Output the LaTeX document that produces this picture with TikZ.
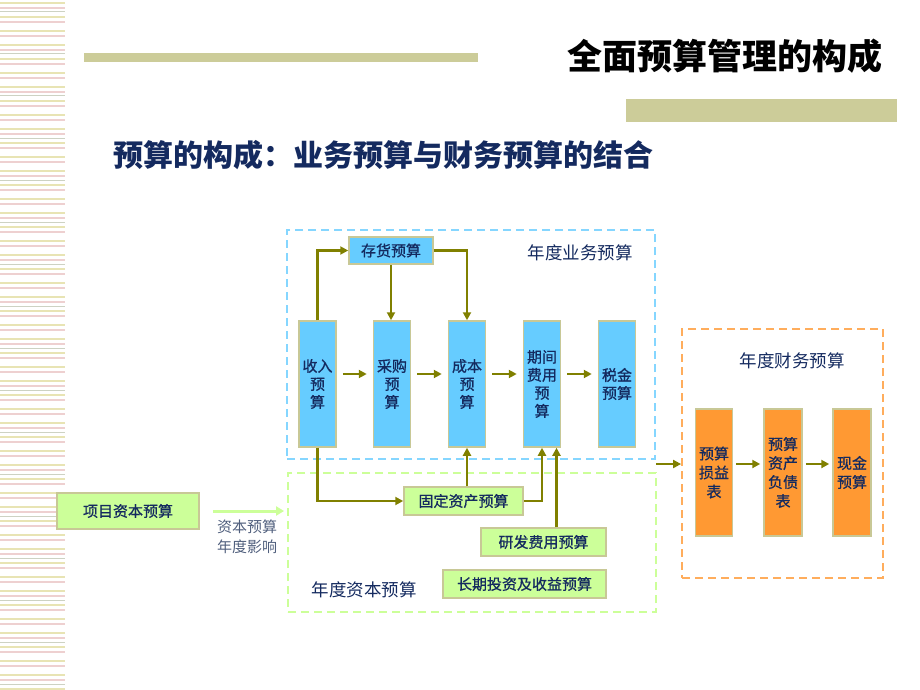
\documentclass[tikz,border=0pt]{standalone}
\usepackage{fontspec}
\setmainfont{Noto Sans CJK SC}
\newfontfamily\boxfont{Noto Sans CJK SC}[FakeBold=0.8]
\usetikzlibrary{arrows.meta}
\definecolor{barolive}{RGB}{204,204,153}
\definecolor{boxline}{RGB}{200,200,150}
\definecolor{navy}{RGB}{20,42,95}
\definecolor{slate}{RGB}{80,95,125}
\definecolor{opblue}{RGB}{102,204,255}
\definecolor{capgreen}{RGB}{204,255,153}
\definecolor{finorange}{RGB}{255,153,51}
\definecolor{arrowolive}{RGB}{128,128,0}
\definecolor{stripeA}{RGB}{232,228,180}
\definecolor{stripeB}{RGB}{238,208,208}
\definecolor{stripeC}{RGB}{205,210,195}
\begin{document}
\begin{tikzpicture}[x=1pt,y=-1pt,
  box/.style={draw=boxline,line width=1.5pt,inner sep=0pt,text=navy,align=center,
    font=\fontsize{15}{18}\boxfont},
  opbox/.style={box,fill=opblue,minimum width=37pt,minimum height=126pt},
  capbox/.style={box,fill=capgreen,minimum height=28pt},
  finbox/.style={box,fill=finorange,minimum width=37pt,minimum height=127pt,
    font=\fontsize{15}{19}\boxfont},
  frame/.style={line width=1.8pt,dash pattern=on 8pt off 5pt,inner sep=0pt},
  group/.style={text=navy,font=\fontsize{17.5}{20}\selectfont},
  flow/.style={draw=arrowolive,line width=2.5pt,-{Triangle[length=8pt,width=8pt]}},
  hop/.style={flow,shorten <=6pt,shorten >=6pt}]
\useasboundingbox (0,0) rectangle (920,690);
% left stripes
\foreach \y in {3,17,...,690} \draw[stripeA,line width=2pt] (0,\y) -- (65,\y);
\foreach \y in {8,22,...,690} \draw[stripeB,line width=1.5pt] (0,\y) -- (65,\y);
\foreach \y in {12,54,...,690} \draw[stripeC,line width=1pt] (0,\y) -- (65,\y);
% title bars
\fill[barolive] (84,53) rectangle (478,62);
\fill[barolive] (626,99) rectangle (897,122);
\node (title) at (725,56) {\fontsize{35}{40}\selectfont\bfseries 全面预算管理的构成};
\node[text=navy] (subtitle) at (383,155) {\fontsize{30}{34}\selectfont\bfseries 预算的构成：业务预算与财务预算的结合};
% frames
\node[frame,draw=opblue!80,minimum width=368pt,minimum height=229pt] (opframe) at (471,344.5) {};
\node[frame,draw=capgreen,minimum width=368pt,minimum height=139pt] (capframe) at (472,542.5) {};
\node[frame,draw=finorange!80,minimum width=201pt,minimum height=249pt] (finframe) at (782.5,453.5) {};
\node[group] (oplabel) at (580,253) {年度业务预算};
\node[group] (caplabel) at (364,590) {年度资本预算};
\node[group] (finlabel) at (792,361) {年度财务预算};
% operating budgets
\node[opbox] (rev) at (317.5,384) {收入\\预\\算};
\node[opbox] (pur) at (392,384) {采购\\预\\算};
\node[opbox] (cost) at (467,384) {成本\\预\\算};
\node[opbox] (period) at (542,384) {期间\\费用\\预\\算};
\node[opbox] (tax) at (617,384) {税金\\预算};
\node[box,fill=opblue,minimum width=84pt,minimum height=27pt] (inv) at (391,250.5) {存货预算};
% capital budgets
\node[capbox,minimum width=142pt,minimum height=36pt] (proj) at (128,511) {项目资本预算};
\node[capbox,minimum width=119pt] (fixed) at (463.5,501) {固定资产预算};
\node[capbox,minimum width=125pt] (rnd) at (543.5,542) {研发费用预算};
\node[capbox,minimum width=163pt] (ltinv) at (524.5,584) {长期投资及收益预算};
\node[text=slate,align=center,font=\fontsize{15}{20}\selectfont] (impact) at (247,537) {资本预算\\年度影响};
% financial budgets
\node[finbox] (pl) at (714,472.5) {预算\\损益\\表};
\node[finbox,minimum width=38pt] (bs) at (783,472.5) {预算\\资产\\负债\\表};
\node[finbox,minimum width=38pt] (cash) at (852,472.5) {现金\\预算};
\coordinate (link) at (656,464);
% connectors
\draw[flow] (rev.north) |- (inv.west);
\draw[flow] (inv.south) -- (inv.south |- pur.north);
\draw[flow] (inv.east) -| (cost.north);
\draw[hop] ([yshift=10pt]rev.east) -- ([yshift=10pt]pur.west);
\draw[hop] ([yshift=10pt]pur.east) -- ([yshift=10pt]cost.west);
\draw[hop] ([yshift=10pt]cost.east) -- ([yshift=10pt]period.west);
\draw[hop] ([yshift=10pt]period.east) -- ([yshift=10pt]tax.west);
\draw[flow] (rev.south) |- (fixed.west);
\draw[flow] (cost.south |- fixed.north) -- (cost.south);
\draw[flow] (fixed.east) -| (period.south);
\draw[flow] ([xshift=13pt]rnd.north) -- ([xshift=13pt]rnd.north |- period.south);
\draw[capgreen,line width=3pt,-{Triangle[length=8pt,width=9pt]},shorten <=13pt,shorten >=3pt]
  (proj.east) -- (proj.east -| capframe.west);
\draw[flow] (link) -- (link -| finframe.west);
\draw[flow,shorten <=3pt,shorten >=3pt] ([yshift=8.5pt]pl.east) -- ([yshift=8.5pt]bs.west);
\draw[flow,shorten <=3pt,shorten >=3pt] ([yshift=8.5pt]bs.east) -- ([yshift=8.5pt]cash.west);
\end{tikzpicture}
\end{document}
